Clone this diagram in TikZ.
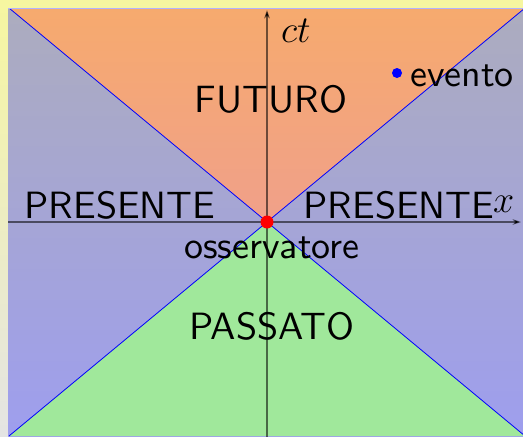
\RequirePackage{fix-cm}
\documentclass[tikz,border=0pt]{standalone}
\usepackage{fontspec}
\newfontfamily\lblfont[Extension=.otf]{lmsans10-regular}
\usetikzlibrary{arrows.meta}
\definecolor{margintop}{RGB}{246,246,160}
\definecolor{marginbot}{RGB}{228,228,228}
\definecolor{frametop}{RGB}{172,172,190}
\definecolor{framebot}{RGB}{158,158,238}
\definecolor{futtop}{RGB}{246,170,110}
\definecolor{futbot}{RGB}{240,160,138}
\definecolor{pastcol}{RGB}{160,232,155}
\tikzset{cone/.style={blue,line width=.8pt},axis/.style={black,draw opacity=.55,line width=1.2pt,-{Stealth[length=3mm,width=2mm]}},lbl/.style={inner sep=0pt,font=\lblfont\fontsize{38}{42}\selectfont}}
\begin{document}
\begin{tikzpicture}[x=1pt,y=-1pt]
\useasboundingbox (0,0) rectangle (523,437);
\shade[top color=margintop,bottom color=marginbot] (0,0) rectangle (523,437);
\shade[top color=frametop,bottom color=framebot] (8,8) rectangle (523,437);
\coordinate (O) at (267,222);
\coordinate (tl) at (9,8);
\coordinate (tr) at (525,8);
\coordinate (bl) at (9,436);
\coordinate (br) at (525,436);
\begin{scope}
\clip (8,8) rectangle (523,437);
\shade[top color=futtop,bottom color=futbot] (O) -- (tl) -- (tr) -- cycle;
\fill[pastcol] (O) -- (bl) -- (br) -- cycle;
\draw[axis] (8,222) -- (521,222);
\draw[axis] (267,437) -- (267,10);
\draw[cone] (tl) -- (br);
\draw[cone] (bl) -- (tr);
\end{scope}
\draw[blue!30,line width=.6pt] (8,8) -- (523,8);
\node[lbl,anchor=base west] (ct) at (281,42) {$ct$};
\node[lbl,anchor=base] (futuro) at (271,112) {FUTURO};
\node[lbl,anchor=base] (presL) at (120,218) {PRESENTE};
\node[lbl,anchor=base] (presR) at (399,218) {PRESENTE};
\node[lbl,anchor=base west] (xlab) at (493,212) {$x$};
\node[lbl,anchor=base] (oss) at (272,258) {osservatore};
\node[lbl,anchor=base] (passato) at (272,339) {PASSATO};
\node[circle,fill=blue,inner sep=0pt,minimum size=10pt] (ev) at (397,73) {};
\node[lbl,anchor=base west] (evento) at (410,86) {evento};
\node[circle,fill=red,inner sep=0pt,minimum size=13pt] (obs) at (O) {};
\end{tikzpicture}
\end{document}
